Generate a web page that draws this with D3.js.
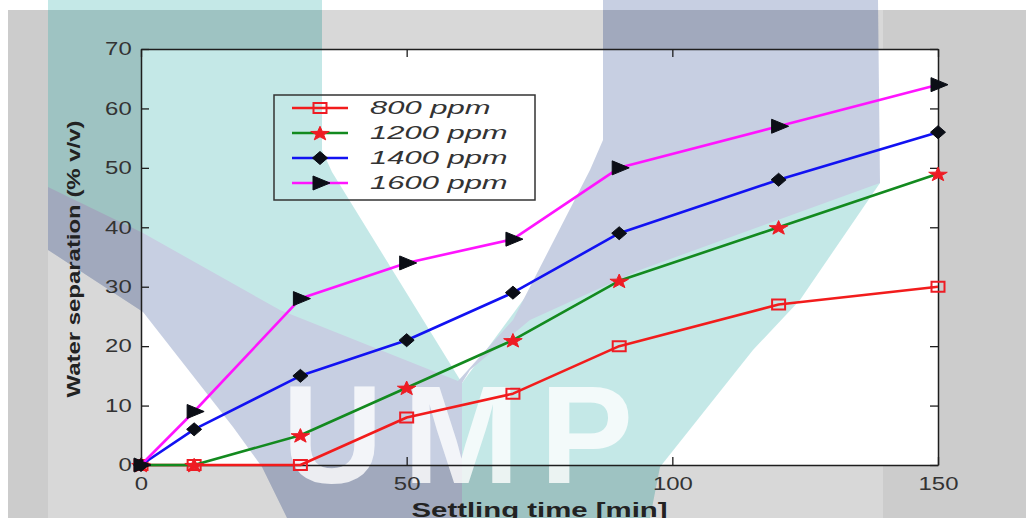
<!DOCTYPE html>
<html><head><meta charset="utf-8">
<script src="https://cdn.jsdelivr.net/npm/d3@7"></script>
<style>html,body{margin:0;padding:0;background:#fff;overflow:hidden}</style>
</head><body><svg id="c" width="1026" height="518"></svg>
<script>
// ---- data ----
const times = [0, 10, 30, 50, 70, 90, 120, 150];
const s800  = [0, 0, 0, 8, 12, 20, 27, 30];
const s1200 = [0, 0, 5, 13, 21, 31, 40, 49];
const s1400 = [0, 6, 15, 21, 29, 39, 48, 56];
const s1600 = [0, 9, 28, 34, 38, 50, 57, 64];
const seriesNames = ["800 ppm", "1200 ppm", "1400 ppm", "1600 ppm"];
const xTickValues = [0, 50, 100, 150];
const yTickValues = [0, 10, 20, 30, 40, 50, 60, 70];
const xLabel = "Settling time [min]";
const yLabel = "Water separation (% v/v)";
const watermarkText = "UMP";

// ---- styles ----
const lineColors = ["#f21c1c", "#138a1f", "#1212f2", "#ff14ff"];
const markerTypes = ["square", "star", "diamond", "triangle"];
const markerFill = ["none", "#ee1c24", "#0b0e16", "#0b0e16"];
const markerStroke = ["#ee1c24", "#ee1c24", "#0b0e16", "#0b0e16"];

const W = 1026, H = 518;
const M = {left: 141, right: 938, top: 49, bottom: 465};
const x = d3.scaleLinear().domain([0, 150]).range([M.left, M.right]);
const y = d3.scaleLinear().domain([0, 70]).range([M.bottom, M.top]);
const FONT = "'Liberation Sans', Arial, Helvetica, sans-serif";

const svg = d3.select("#c");
svg.append("rect").attr("x", 8).attr("y", 10).attr("width", W - 8).attr("height", H - 10).attr("fill", "#cccccc");
svg.append("rect").attr("x", M.left).attr("y", M.top).attr("width", M.right - M.left).attr("height", M.bottom - M.top).attr("fill", "#fff");

// ---- background watermark (decoration) ----
const tealShape = [[48,0],[322,0],[322,150],[332,172],[462,383],[560,250],[876,160],[880,183],[800,300],[753,350],[660,467],[650,518],[462,518],[400,518],[48,200]];
const blueShape = [[603,0],[878,0],[880,183],[640,270],[530,320],[470,370],[462,383],[462,518],[287,518],[262,467],[233,427],[143,312],[48,250],[48,187],[143,233],[280,310],[458,381],[513,320],[590,170],[603,140]];
const defs = svg.append("defs");
const mask = defs.append("mask").attr("id", "wm").attr("maskUnits", "userSpaceOnUse")
  .attr("x", 0).attr("y", 0).attr("width", W).attr("height", H);
mask.append("rect").attr("width", W).attr("height", H).attr("fill", "#fff");
mask.selectAll("polygon").data([tealShape, blueShape]).join("polygon")
  .attr("points", d => d.join(" ")).attr("fill", "#000");
svg.append("rect").attr("x", 48).attr("y", 0).attr("width", 883 - 48).attr("height", H)
  .attr("fill", "#fff").attr("opacity", 0.25).attr("mask", "url(#wm)");
const wg = svg.append("g").attr("opacity", 0.26);
wg.append("polygon").attr("points", tealShape.join(" ")).attr("fill", "rgb(32,170,167)");
wg.append("polygon").attr("points", blueShape.join(" ")).attr("fill", "rgb(43,74,147)");
svg.append("text").attr("x", 282).attr("y", 483).text(watermarkText)
  .attr("font-family", FONT).attr("font-weight", "bold").attr("font-size", 140)
  .attr("letter-spacing", 20).attr("fill", "#fff").attr("opacity", 0.8);

// ---- axes ----
const axisColor = "#1e1e1e";
function styleAxis(g, withText) {
  g.attr("font-family", FONT);
  g.select(".domain").attr("stroke", axisColor).attr("stroke-width", 1.5);
  g.selectAll(".tick line").attr("stroke", axisColor).attr("stroke-width", 1.3);
  if (withText) g.selectAll(".tick text").attr("font-size", 18).attr("fill", "#333").attr("transform", "scale(1.33,1)");
}
const gx = svg.append("g").attr("transform", `translate(0,${M.bottom})`)
  .call(d3.axisBottom(x).tickValues(xTickValues).tickSizeInner(-8).tickSizeOuter(0).tickPadding(12).tickFormat(d3.format("d")));
styleAxis(gx, true);
const gxt = svg.append("g").attr("transform", `translate(0,${M.top})`)
  .call(d3.axisTop(x).tickValues(xTickValues).tickSizeInner(-8).tickSizeOuter(0).tickFormat(() => ""));
styleAxis(gxt, false);
const gy = svg.append("g").attr("transform", `translate(${M.left},0)`)
  .call(d3.axisLeft(y).tickValues(yTickValues).tickSizeInner(-8).tickSizeOuter(0).tickPadding(7).tickFormat(d3.format("d")));
styleAxis(gy, true);
const gyr = svg.append("g").attr("transform", `translate(${M.right},0)`)
  .call(d3.axisRight(y).tickValues(yTickValues).tickSizeInner(-8).tickSizeOuter(0).tickFormat(() => ""));
styleAxis(gyr, false);

// ---- markers ----
function markerPath(type) {
  switch (type) {
    case "square": return "M-6.5,-5H6.5V5H-6.5Z";
    case "diamond": return "M0,-6.5L7.5,0L0,6.5L-7.5,0Z";
    case "triangle": return "M-7,-7L10,0L-7,7Z";
    case "star": {
      const p = d3.path();
      for (let i = 0; i < 10; i++) {
        const r = i % 2 === 0 ? 7.5 : 3.0;
        const a = -Math.PI / 2 + i * Math.PI / 5;
        const px = Math.cos(a) * r * 1.3, py = Math.sin(a) * r + 0.8;
        if (i === 0) p.moveTo(px, py); else p.lineTo(px, py);
      }
      p.closePath();
      return p.toString();
    }
  }
}

// ---- series ----
const seriesValues = [s800, s1200, s1400, s1600];
const line = d3.line().x(d => x(d[0])).y(d => y(d[1]));
seriesValues.forEach((vals, i) => {
  const pts = times.map((t, j) => [t, vals[j]]);
  const g = svg.append("g");
  g.append("path").datum(pts).attr("d", line).attr("fill", "none")
    .attr("stroke", lineColors[i]).attr("stroke-width", 2.6).attr("stroke-linejoin", "round");
  g.selectAll("path.m").data(pts).join("path").attr("class", "m")
    .attr("transform", d => `translate(${x(d[0])},${y(d[1])})`)
    .attr("d", markerPath(markerTypes[i]))
    .attr("fill", markerFill[i]).attr("stroke", markerStroke[i])
    .attr("stroke-width", markerTypes[i] === "square" ? 2 : 1);
});

// ---- legend ----
const lg = svg.append("g");
lg.append("rect").attr("x", 274).attr("y", 95).attr("width", 261).attr("height", 105)
  .attr("fill", "none").attr("stroke", "#333").attr("stroke-width", 1.5);
const ly = d3.scalePoint().domain(seriesNames).range([108, 183]);
seriesNames.forEach((name, i) => {
  const yy = ly(name);
  lg.append("line").attr("x1", 292).attr("x2", 348).attr("y1", yy).attr("y2", yy)
    .attr("stroke", lineColors[i]).attr("stroke-width", 2.6);
  lg.append("path").attr("transform", `translate(320,${yy})`).attr("d", markerPath(markerTypes[i]))
    .attr("fill", markerFill[i]).attr("stroke", markerStroke[i])
    .attr("stroke-width", markerTypes[i] === "square" ? 2 : 1);
  lg.append("text").attr("transform", `translate(370,${yy}) scale(1.72,1)`).attr("dy", "0.36em")
    .attr("font-family", FONT).attr("font-style", "italic").attr("font-size", 18)
    .attr("fill", "#333").text(name);
});

// ---- axis labels ----
svg.append("text").attr("transform", `translate(80,${(M.top + M.bottom) / 2 + 2}) rotate(-90)`)
  .attr("text-anchor", "middle").attr("font-family", FONT).attr("font-weight", "bold")
  .attr("font-size", 19).attr("fill", "#222").attr("textLength", 277)
  .attr("lengthAdjust", "spacingAndGlyphs").text(yLabel);
svg.append("text").attr("x", (M.left + M.right) / 2).attr("y", 517)
  .attr("text-anchor", "middle").attr("font-family", FONT).attr("font-weight", "bold")
  .attr("font-size", 20).attr("fill", "#222").attr("textLength", 256)
  .attr("lengthAdjust", "spacingAndGlyphs").text(xLabel);
</script>
</body></html>
